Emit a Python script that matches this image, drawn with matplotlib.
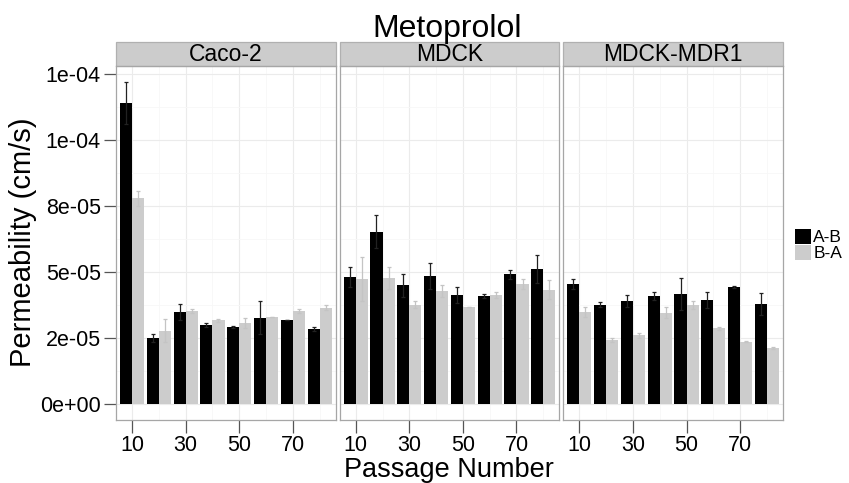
"""Metoprolol permeability (A-B / B-A) vs passage number, faceted by cell line."""
import numpy as np
import matplotlib as mpl
mpl.use("Agg")
import matplotlib.pyplot as plt
from matplotlib.patches import Rectangle, Patch

plt.rcParams["font.family"] = ["Liberation Sans", "DejaVu Sans"]

PASSAGE = [10, 20, 30, 40, 50, 60, 70, 80]
CELLS = ["Caco-2", "MDCK", "MDCK-MDR1"]
DIRS = ["A-B", "B-A"]

# permeability in units of 1e-5 cm/s (mean, upper error)
CACO_AB = [11.40, 2.51, 3.48, 2.98, 2.92, 3.27, 3.18, 2.84]
CACO_AB_ERR = [0.81, 0.15, 0.30, 0.08, 0.03, 0.63, 0.00, 0.06]
CACO_BA = [7.79, 2.77, 3.52, 3.16, 3.06, 3.28, 3.52, 3.65]
CACO_BA_ERR = [0.28, 0.44, 0.09, 0.06, 0.19, 0.00, 0.09, 0.09]
MDCK_AB = [4.81, 6.53, 4.49, 4.85, 4.11, 4.08, 4.91, 5.11]
MDCK_AB_ERR = [0.37, 0.62, 0.43, 0.48, 0.30, 0.08, 0.17, 0.52]
MDCK_BA = [4.73, 4.77, 3.76, 4.28, 3.66, 4.11, 4.55, 4.33]
MDCK_BA_ERR = [0.83, 0.41, 0.13, 0.23, 0.00, 0.11, 0.18, 0.36]
MDR1_AB = [4.55, 3.76, 3.91, 4.08, 4.16, 3.92, 4.43, 3.79]
MDR1_AB_ERR = [0.19, 0.09, 0.23, 0.16, 0.61, 0.30, 0.03, 0.41]
MDR1_BA = [3.48, 2.42, 2.60, 3.45, 3.74, 2.86, 2.35, 2.13]
MDR1_BA_ERR = [0.18, 0.08, 0.09, 0.21, 0.16, 0.06, 0.02, 0.04]

YTICKS = [0, 2.5e-5, 5e-5, 7.5e-5, 1e-4, 1.25e-4]
YTICKLABELS = ["0e+00", "2e-05", "5e-05", "8e-05", "1e-04", "1e-04"]
XTICKS = [10, 30, 50, 70]

W, H = 849, 483
FILL = {"A-B": "#000000", "B-A": "#cccccc"}
ERRC = {"A-B": "#222222", "B-A": "#c4c4c4"}
BW = 4.5


def main():
    data = {
        "Caco-2": {"A-B": (CACO_AB, CACO_AB_ERR), "B-A": (CACO_BA, CACO_BA_ERR)},
        "MDCK": {"A-B": (MDCK_AB, MDCK_AB_ERR), "B-A": (MDCK_BA, MDCK_BA_ERR)},
        "MDCK-MDR1": {"A-B": (MDR1_AB, MDR1_AB_ERR), "B-A": (MDR1_BA, MDR1_BA_ERR)},
    }
    fig, axes = plt.subplots(1, 3, figsize=(W / 100, H / 100), dpi=100, sharey=True)
    fig.subplots_adjust(left=116 / W, right=783 / W, bottom=1 - 420 / H,
                        top=1 - 66 / H, wspace=0.018)
    x = np.array(PASSAGE, dtype=float)

    for ax, cell in zip(axes, CELLS):
        for d, off in zip(DIRS, (-BW / 2, BW / 2)):
            m, e = data[cell][d]
            m = np.array(m) * 1e-5
            e = np.array(e) * 1e-5
            ax.bar(x + off, m, width=BW, color=FILL[d], lw=0, zorder=2)
            ax.errorbar(x + off, m, yerr=e, fmt="none", ecolor=ERRC[d],
                        elinewidth=0.9, capsize=1.3, capthick=0.9, zorder=3)
        ax.set_xlim(4.0, 86.0)
        ax.set_ylim(-6.1e-6, 1.28e-4)
        ax.set_xticks(XTICKS)
        ax.set_xticks([20, 40, 60, 80], minor=True)
        ax.set_yticks(YTICKS)
        ax.set_yticks(np.arange(1.25e-5, 1.3e-4, 2.5e-5), minor=True)
        ax.grid(which="major", color="#ebebeb", lw=0.8, zorder=0)
        ax.grid(which="minor", color="#f7f7f7", lw=0.6, zorder=0)
        ax.set_axisbelow(True)
        for s in ax.spines.values():
            s.set_color("#a6a6a6"); s.set_linewidth(0.9)
        ax.tick_params(which="major", length=9, width=0.9, color="#555555",
                       labelsize=15.5, pad=2)
        ax.tick_params(which="minor", length=0)
        # facet strip
        ax.add_patch(Rectangle((0, 1), 1, 24 / 354, transform=ax.transAxes,
                               clip_on=False, facecolor="#cccccc",
                               edgecolor="#b0b0b0", lw=0.9))
        ax.text(0.5, 1 + 12 / 354, cell, transform=ax.transAxes, ha="center",
                va="center", fontsize=16.5)

    axes[0].set_yticklabels(YTICKLABELS)
    for ax in axes[1:]:
        ax.tick_params(axis="y", which="both", left=False, labelleft=False)

    fig.text(447 / W, 1 - 37 / H, "Metoprolol", ha="center", va="baseline", fontsize=23)
    fig.text(449 / W, 1 - 477 / H, "Passage Number", ha="center", va="baseline",
             fontsize=19.5)
    fig.text(23 / W, 1 - 242 / H, "Permeability (cm/s)", rotation=90,
             ha="center", va="center", fontsize=21)

    handles = [Patch(facecolor=FILL[d], edgecolor="none") for d in DIRS]
    fig.legend(handles, DIRS, loc="center left", bbox_to_anchor=(795 / W, 1 - 245 / H),
               frameon=False, fontsize=12.5, handlelength=0.95, handleheight=0.95,
               handletextpad=0.1, labelspacing=0.0, borderpad=0, borderaxespad=0)

    fig.savefig("out.png", dpi=100)


if __name__ == "__main__":
    main()
